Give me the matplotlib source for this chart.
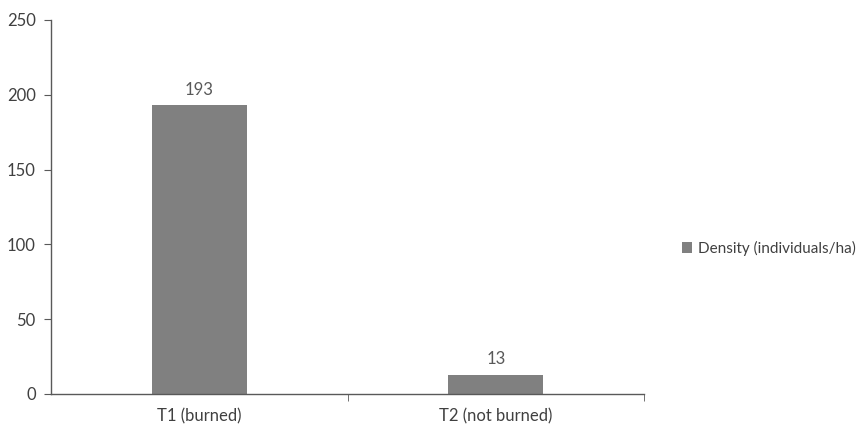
import numpy as np
import matplotlib.pyplot as plt

categories = ["T1 (burned)", "T2 (not burned)"]
density = [193, 13]
series_name = "Density (individuals/ha)"

plt.rcParams['font.family'] = ['Lato', 'DejaVu Sans']

fig = plt.figure(figsize=(8.61, 4.25), dpi=100)
ax = fig.add_axes([0.0592, 0.073, 0.689, 0.880])

x = np.arange(len(categories))
bars = ax.bar(x, density, width=0.32, color="#808080", label=series_name)

for xi, v in zip(x, density):
    ax.text(xi, v + 5, str(v), ha="center", va="bottom", fontsize=12, color="#595959")

ax.set_xlim(-0.5, len(categories) - 0.5)
ax.set_ylim(0, 250)
ax.set_yticks(np.arange(0, 251, 50))
ax.set_xticks(x)
ax.set_xticklabels(categories)
ax.set_xticks(np.arange(0.5, len(categories), 1), minor=True)
ax.tick_params(axis="x", which="major", length=0, pad=10, labelsize=12, labelcolor="#404040")
ax.tick_params(axis="x", which="minor", length=5, direction="out", color="#595959")
ax.tick_params(axis="y", length=5, direction="out", color="#595959", labelsize=12,
               labelcolor="#404040", pad=6)

for side in ["top", "right"]:
    ax.spines[side].set_visible(False)
for side in ["left", "bottom"]:
    ax.spines[side].set_color("#595959")
    ax.spines[side].set_linewidth(1)

leg = ax.legend(loc="center left", bbox_to_anchor=(1.045, 0.39), frameon=False,
                fontsize=11, handlelength=0.7, handleheight=0.7, handletextpad=0.4,
                borderpad=0.2)
for t in leg.get_texts():
    t.set_color("#404040")

fig.savefig("out.png", dpi=100)
